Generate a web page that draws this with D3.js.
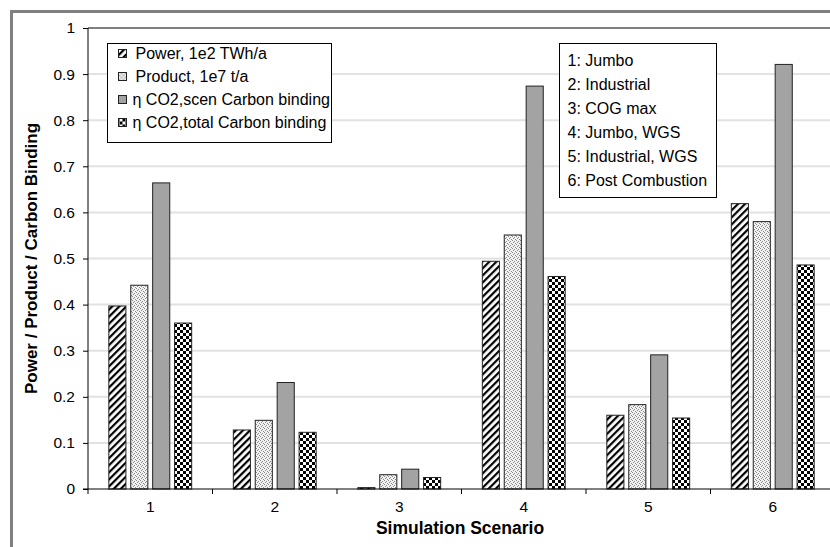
<!DOCTYPE html>
<html>
<head>
<meta charset="utf-8">
<script src="https://cdn.jsdelivr.net/npm/d3@7/dist/d3.min.js"></script>
<style>
  body { margin: 0; background: white; }
  svg text { font-family: "Liberation Sans", Arial, sans-serif; }
</style>
</head>
<body>
<svg id="chart" width="830" height="547"></svg>
<script>
  // data
  let scenarios = ["1", "2", "3", "4", "5", "6"];
  let seriesNames = ["Power, 1e2 TWh/a", "Product, 1e7 t/a", "\u03b7 CO2,scen Carbon binding", "\u03b7 CO2,total Carbon binding"];
  let power   = [0.397, 0.128, 0.003, 0.494, 0.160, 0.619];
  let product = [0.442, 0.149, 0.031, 0.551, 0.183, 0.580];
  let etaScen = [0.664, 0.231, 0.043, 0.874, 0.291, 0.921];
  let etaTot  = [0.360, 0.123, 0.025, 0.461, 0.154, 0.486];
  let scenarioNames = ["1: Jumbo", "2: Industrial", "3: COG max", "4: Jumbo, WGS", "5: Industrial, WGS", "6: Post Combustion"];
  let yTicks = [0, 0.1, 0.2, 0.3, 0.4, 0.5, 0.6, 0.7, 0.8, 0.9, 1];

  let svg = d3.select("#chart");
  let margin = {top: 28, left: 88, bottom: 58, right: -5};
  let width = 830, height = 547;

  let fills = ["url(#hatch)", "url(#dots)", "#a3a3a3", "url(#checker)"];
  let seriesVals = [power, product, etaScen, etaTot];

  // patterns
  let defs = svg.append("defs");
  let hatch = defs.append("pattern").attr("id", "hatch").attr("patternUnits", "userSpaceOnUse")
    .attr("width", 5).attr("height", 5).attr("patternTransform", "rotate(45)");
  hatch.append("rect").attr("width", 5).attr("height", 5).attr("fill", "white");
  hatch.append("rect").attr("x", 0).attr("width", 2.2).attr("height", 5).attr("fill", "black");

  let dots = defs.append("pattern").attr("id", "dots").attr("patternUnits", "userSpaceOnUse")
    .attr("width", 4).attr("height", 4);
  dots.append("rect").attr("width", 4).attr("height", 4).attr("fill", "#f2f2f2");
  [[0, 0], [2, 1], [1, 2], [3, 3]].forEach(function(p){
    dots.append("rect").attr("x", p[0]).attr("y", p[1]).attr("width", 1).attr("height", 1).attr("fill", "#8a8a8a");
  });

  let checker = defs.append("pattern").attr("id", "checker").attr("patternUnits", "userSpaceOnUse")
    .attr("width", 6).attr("height", 6);
  checker.append("rect").attr("width", 6).attr("height", 6).attr("fill", "white");
  checker.append("rect").attr("width", 3).attr("height", 3).attr("fill", "black");
  checker.append("rect").attr("x", 3).attr("y", 3).attr("width", 3).attr("height", 3).attr("fill", "black");

  // outer frame
  svg.append("rect").attr("x", 11.5).attr("y", 11.5).attr("width", 840).attr("height", 560)
    .attr("fill", "none").attr("stroke", "#808080").attr("stroke-width", 3);

  let x = d3.scaleBand().domain(scenarios).range([margin.left, width - margin.right]);
  let xInner = d3.scaleBand().domain(d3.range(4)).range([0, x.bandwidth()]).paddingInner(0.22).paddingOuter(0.95);
  let y = d3.scaleLinear().domain([0, 1]).range([height - margin.bottom, margin.top]);

  // gridlines
  svg.append("g").selectAll("line").data(yTicks.slice(1, -1)).enter().append("line")
    .attr("x1", margin.left).attr("x2", width)
    .attr("y1", function(d){ return y(d); }).attr("y2", function(d){ return y(d); })
    .attr("stroke", "#e2e2e2").attr("stroke-width", 2);

  // top border of plot
  svg.append("line").attr("x1", margin.left).attr("x2", width).attr("y1", y(1)).attr("y2", y(1))
    .attr("stroke", "black").attr("stroke-width", 1);

  // bars
  seriesVals.forEach(function(vals, si){
    svg.append("g").selectAll("rect").data(vals).enter().append("rect")
      .attr("x", function(d, i){ return x(scenarios[i]) + xInner(si); })
      .attr("width", xInner.bandwidth())
      .attr("y", function(d){ return y(d); })
      .attr("height", function(d){ return y(0) - y(d); })
      .attr("fill", fills[si])
      .attr("stroke", "#222").attr("stroke-width", 1);
  });

  // axes
  let yAxis = d3.axisLeft(y).tickValues(yTicks).tickSize(5).tickPadding(8)
    .tickFormat(function(d){ return d3.format("")(d); });
  let yG = svg.append("g").attr("transform", "translate(" + margin.left + ",0)").call(yAxis);
  yG.select(".domain").attr("d", "M-5," + y(0) + "H0V" + y(1));
  yG.selectAll("text").style("font-size", "15.5px").attr("fill", "black");

  let xAxis = d3.axisBottom(x).tickSize(0).tickPadding(12);
  let xG = svg.append("g").attr("transform", "translate(0," + y(0) + ")").call(xAxis);
  xG.select(".domain").remove();
  xG.append("line").attr("x1", margin.left).attr("x2", width).attr("stroke", "black");
  xG.selectAll(".tick text").style("font-size", "15.5px").attr("fill", "black");
  xG.selectAll(".sep").data(scenarios).enter().append("line").attr("class", "sep")
    .attr("x1", function(d){ return x(d) + x.bandwidth(); })
    .attr("x2", function(d){ return x(d) + x.bandwidth(); })
    .attr("y1", 0).attr("y2", 5).attr("stroke", "black");
  xG.append("line").attr("x1", margin.left).attr("x2", margin.left).attr("y1", 0).attr("y2", 5).attr("stroke", "black");

  // axis titles
  svg.append("text").attr("x", 460).attr("y", 534).attr("text-anchor", "middle")
    .style("font-size", "17.5px").style("font-weight", "bold").text("Simulation Scenario");
  svg.append("text").attr("transform", "translate(37," + ((y(0) + y(1)) / 2) + ") rotate(-90)")
    .attr("text-anchor", "middle").style("font-size", "17px").style("font-weight", "bold")
    .text("Power / Product / Carbon Binding");

  // series legend
  let lg = svg.append("g").attr("transform", "translate(107.5,43.5)");
  lg.append("rect").attr("width", 224).attr("height", 99).attr("fill", "white").attr("stroke", "black");
  seriesNames.forEach(function(name, i){
    let cy = 10 + i * 23;
    lg.append("rect").attr("x", 11).attr("y", cy - 4).attr("width", 8).attr("height", 8)
      .attr("fill", fills[i]).attr("stroke", "#222");
    lg.append("text").attr("x", i < 2 ? 28 : 25).attr("y", cy + 5.5).style("font-size", "16px").text(name);
  });

  // scenario legend
  let lg2 = svg.append("g").attr("transform", "translate(559.5,43.5)");
  lg2.append("rect").attr("width", 157).attr("height", 154).attr("fill", "white").attr("stroke", "black");
  scenarioNames.forEach(function(name, i){
    lg2.append("text").attr("x", 8).attr("y", 22 + i * 24).style("font-size", "16px").text(name);
  });
</script>
</body>
</html>
